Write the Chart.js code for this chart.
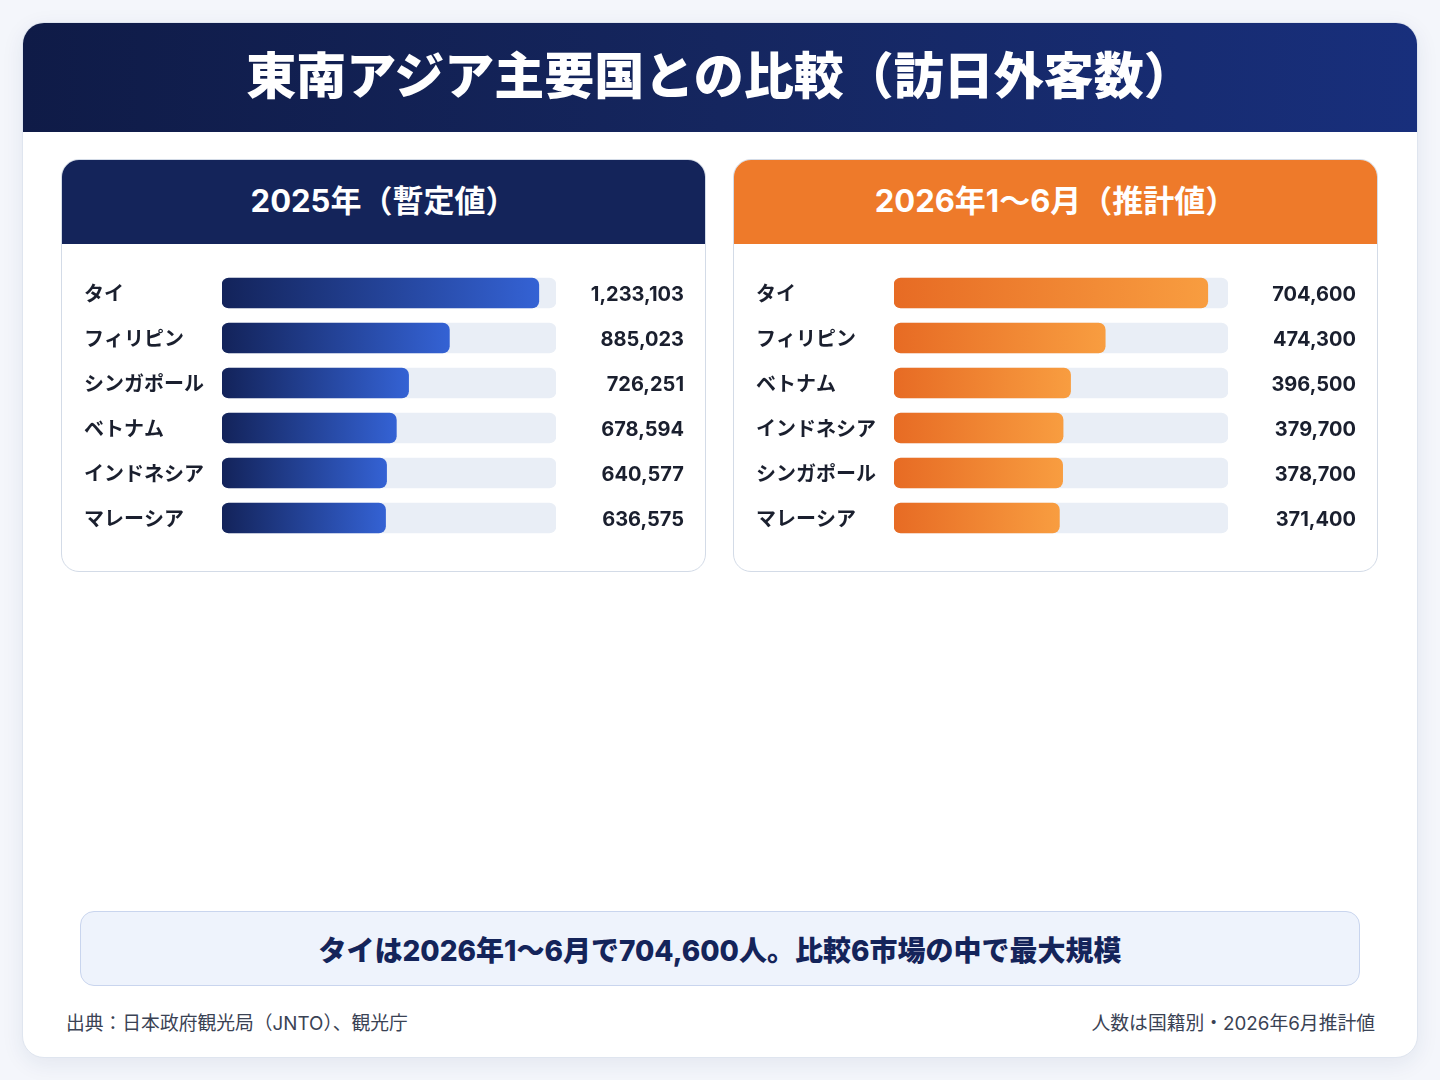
<!DOCTYPE html>
<html lang="ja">
<head>
<meta charset="utf-8">
<script src="https://cdn.jsdelivr.net/npm/chart.js@4/dist/chart.umd.min.js"></script>
<style>
  html, body { margin: 0; padding: 0; }
  body {
    width: 1440px; height: 1080px; position: relative; overflow: hidden;
    background: #f4f6fb;
    font-family: Inter, "Noto Sans CJK JP", sans-serif;
  }
  .card {
    position: absolute; left: 22px; top: 22px; width: 1394px; height: 1034px;
    background: #fff; border: 1px solid #dfe5ef; border-radius: 22px;
    box-shadow: 0 6px 22px rgba(30, 50, 100, 0.08); overflow: hidden;
  }
  .hdr {
    position: absolute; left: 0; top: 0; width: 100%; height: 109px;
    background: linear-gradient(90deg, #0f1b47 0%, #15265f 50%, #182f7c 100%);
    color: #fff; font-weight: 900; font-size: 50px; line-height: 1;
    display: flex; align-items: center; justify-content: center;
  }
  .hdr span { position: relative; top: -2px; }
  .panel {
    position: absolute; top: 159px; width: 643px; height: 411px;
    background: #fff; border: 1px solid #d3dbe7; border-radius: 18px; overflow: hidden;
  }
  .panel .ph {
    height: 84px; color: #fff; font-weight: 700; font-size: 31px; line-height: 1;
    display: flex; align-items: center; justify-content: center;
  }
  .panel .ph span { position: relative; top: -2px; }
  .panel canvas { position: absolute; left: 0; top: 84px; }
  .note {
    position: absolute; left: 80px; top: 911px; width: 1278px; height: 73px;
    background: #eef3fc; border: 1px solid #c9d5ee; border-radius: 14px;
    color: #14245a; font-weight: 800; font-size: 28px;
    display: flex; align-items: center; justify-content: center;
  }
  .foot { position: absolute; top: 1008px; font-size: 18.8px; color: #3a4254; }
</style>
</head>
<body>
<div class="card"><div class="hdr"><span>東南アジア主要国との比較（訪日外客数）</span></div></div>

<div class="panel" style="left:61px">
  <div class="ph" style="background:#14245a"><span>2025年（暫定値）</span></div>
  <canvas id="c2025" width="643" height="328"></canvas>
</div>
<div class="panel" style="left:733px">
  <div class="ph" style="background:#ee7a2a"><span>2026年1〜6月（推計値）</span></div>
  <canvas id="c2026" width="643" height="328"></canvas>
</div>

<div class="note">タイは2026年1〜6月で704,600人。比較6市場の中で最大規模</div>
<div class="foot" style="left:66px">出典：日本政府観光局（JNTO）、観光庁</div>
<div class="foot" style="right:65px">人数は国籍別・2026年6月推計値</div>

<script>
// 2025年（暫定値）
const countries2025 = ['タイ', 'フィリピン', 'シンガポール', 'ベトナム', 'インドネシア', 'マレーシア'];
const visitors2025 = [1233103, 885023, 726251, 678594, 640577, 636575];
const axisMax2025 = 1300000;

// 2026年1〜6月（推計値）
const countries2026 = ['タイ', 'フィリピン', 'ベトナム', 'インドネシア', 'シンガポール', 'マレーシア'];
const visitors2026 = [704600, 474300, 396500, 379700, 378700, 371400];
const axisMax2026 = 750000;

const FONT = "Inter, 'Noto Sans CJK JP', sans-serif";
const TEXT = '#1a1f2e';

// gradient that runs from the left edge of the plot to the end of each bar
function barGradient(from, to) {
  return function(ctx) {
    const chart = ctx.chart;
    const area = chart.chartArea;
    if (!area || ctx.type !== 'data') return to;
    const end = chart.scales.x.getPixelForValue(ctx.raw);
    const g = chart.ctx.createLinearGradient(area.left, 0, Math.max(end, area.left + 1), 0);
    g.addColorStop(0, from);
    g.addColorStop(1, to);
    return g;
  };
}

function makeChart(id, labels, values, max, from, to) {
  const fmt = values.map(v => v.toLocaleString('en-US'));
  return new Chart(document.getElementById(id), {
    type: 'bar',
    data: {
      labels: labels,
      datasets: [
        {
          data: values,
          backgroundColor: barGradient(from, to),
          borderRadius: 7,
          borderSkipped: false,
          barThickness: 30,
          grouped: false,
          order: 1
        },
        {
          // track behind each bar
          data: values.map(() => max),
          backgroundColor: '#e9eef6',
          borderRadius: 7,
          borderSkipped: false,
          barThickness: 30,
          grouped: false,
          order: 2
        }
      ]
    },
    options: {
      indexAxis: 'y',
      responsive: false,
      animation: false,
      events: [],
      layout: { padding: { left: 22, right: 21, top: 26.5, bottom: 31.5 } },
      plugins: { legend: { display: false }, tooltip: { enabled: false } },
      scales: {
        x: { display: false, min: 0, max: max },
        y: {
          position: 'left',
          grid: { display: false },
          border: { display: false },
          ticks: {
            crossAlign: 'far', padding: 0, autoSkip: false, color: TEXT, labelOffset: 2,
            font: { family: FONT, size: 20, weight: 'bold' }
          },
          afterFit: s => { s.width = 138; }
        },
        y2: {
          type: 'category',
          position: 'right',
          labels: fmt,
          offset: true,
          grid: { display: false },
          border: { display: false },
          ticks: {
            crossAlign: 'far', padding: 0, autoSkip: false, color: TEXT, labelOffset: 2,
            font: { family: FONT, size: 20, weight: 'bold' }
          },
          afterFit: s => { s.width = 128; }
        }
      }
    }
  });
}

makeChart('c2025', countries2025, visitors2025, axisMax2025, '#13235a', '#3462d4');
makeChart('c2026', countries2026, visitors2026, axisMax2026, '#e76b24', '#f89d40');
</script>
</body>
</html>
